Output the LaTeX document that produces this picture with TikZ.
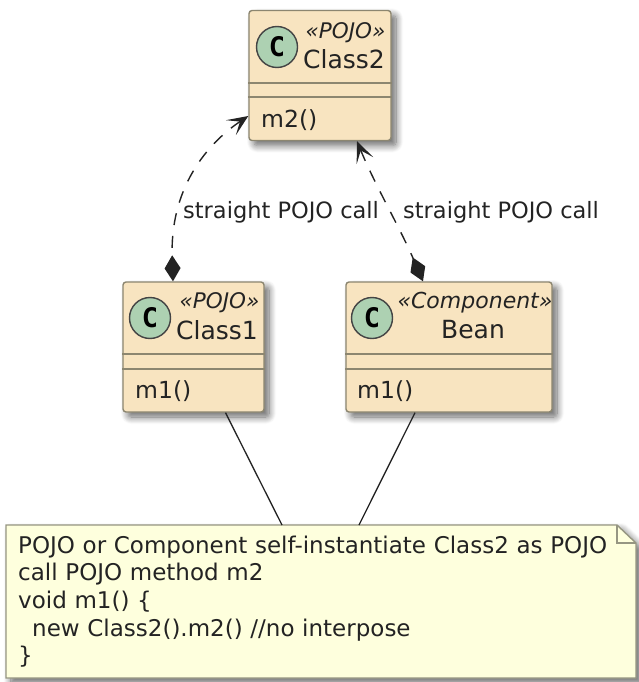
\documentclass[tikz,border=0pt]{standalone}
\usepackage{fontspec}
\setmainfont{DejaVu Sans}
\newfontfamily\badgefont{DejaVu Sans Mono}
\usetikzlibrary{arrows.meta, positioning, calc, shadows.blur}
\definecolor{classfill}{RGB}{248, 228, 192}
\definecolor{classline}{RGB}{140, 134, 112}
\definecolor{circfill}{RGB}{173, 209, 178}
\definecolor{notefill}{RGB}{254, 255, 221}
\definecolor{noteline}{RGB}{150, 150, 130}
\definecolor{inkdark}{RGB}{35, 35, 35}

\begin{document}
\begin{tikzpicture}[
  x=1pt, y=-1pt,
  softshadow/.style={blur shadow={shadow xshift=5pt, shadow yshift=-5pt, shadow blur radius=7pt, shadow blur steps=10, shadow opacity=60}},
  classbox/.style={draw=classline, fill=classfill, rounded corners=3pt, line width=1.4pt, minimum height=130pt, inner sep=0pt, softshadow},
  sepline/.style={draw=classline, line width=1.3pt},
  badge/.style={circle, draw=inkdark!85, fill=circfill, line width=1.4pt, minimum size=41pt, inner sep=0pt, font=\fontsize{27}{27}\badgefont\bfseries},
  stereo/.style={font=\fontsize{#1}{#1}\itshape\selectfont, text=inkdark, inner sep=0pt},
  classname/.style={font=\fontsize{25}{25}\selectfont, text=inkdark, inner sep=0pt},
  method/.style={font=\fontsize{23.5}{23.5}\selectfont, text=inkdark, inner sep=0pt, anchor=west},
  callarrow/.style={dash pattern=on 12pt off 11pt, line width=1.4pt, draw=inkdark, {Stealth[length=21pt, width=18pt, inset=11pt]}-{Diamond[length=26pt, width=16pt]}},
  tieline/.style={line width=1.3pt, draw=inkdark},
  calltext/.style={font=\fontsize{22.5}{22.5}\selectfont, text=inkdark, inner sep=0pt},
]
  \useasboundingbox (0,0) rectangle (638,682);

  % Classes
  \node[classbox, minimum width=142pt] (class2) at (320,75.5) {};
  \node[classbox, minimum width=141pt] (class1) at (193.5,347) {};
  \node[classbox, minimum width=206pt] (bean) at (449,347) {};

  % Compartments
  \draw[sepline] (class2.west |- 0,83) -- (class2.east |- 0,83);
  \draw[sepline] (class2.west |- 0,97) -- (class2.east |- 0,97);
  \foreach \nm in {class1, bean} {
    \draw[sepline] (\nm.west |- 0,354) -- (\nm.east |- 0,354);
    \draw[sepline] (\nm.west |- 0,369) -- (\nm.east |- 0,369);
  }

  % Class2 texts
  \node[badge] (c2badge) at (277,47) {C};
  \node[stereo=21.5] (c2stereo) at (345.5,33) {«POJO»};
  \node[classname] (c2name) at (344,59) {Class2};
  \node[method] (c2method) at (261,120) {m2()};

  % Class1 texts
  \node[badge] (c1badge) at (150,318) {C};
  \node[stereo=21.5] (c1stereo) at (219.5,303) {«POJO»};
  \node[classname] (c1name) at (217,330) {Class1};
  \node[method] (c1method) at (135,391) {m1()};

  % Bean texts
  \node[badge] (bnbadge) at (372,318) {C};
  \node[stereo=22] (bnstereo) at (475,303) {«Component»};
  \node[classname] (bnname) at (473,330) {Bean};
  \node[method] (bnmethod) at (357,391) {m1()};

  % Note
  \path[softshadow, draw=noteline, fill=notefill, line width=1.4pt] (6,525) -- (617,525) -- (636,543) -- (636,678) -- (6,678) -- cycle;
  \draw[draw=noteline, line width=1.4pt] (617,525) |- (636,543);
  \node[anchor=north west, inner xsep=12pt, inner ysep=0pt, minimum height=153pt, text width=606pt, align=left, font=\fontsize{23}{27.7}\selectfont, text=inkdark] (note) at (6,525) {POJO or Component self-instantiate Class2 as POJO\\call POJO method m2\\void m1() \{\\\hspace*{14pt}new Class2().m2() //no interpose\\\}};

  % Arrows
  \draw[callarrow] ([yshift=-40.5pt]class2.west) .. controls (205,145) and (170,190) .. ([xshift=-20.5pt]class1.north);
  \draw[callarrow] ([xshift=37pt]class2.south) .. controls (375,185) and (400,228) .. ([xshift=-26pt]bean.north);

  % Ties to the note
  \draw[tieline] ([xshift=32pt]class1.south) -- (note.north -| 282,0);
  \draw[tieline] ([xshift=-34pt]bean.south) -- (note.north -| 359,0);

  % Labels
  \node[calltext, anchor=west] (lblleft) at (183,212) {straight POJO call};
  \node[calltext, anchor=west] (lblright) at (403,212) {straight POJO call};
\end{tikzpicture}
\end{document}
